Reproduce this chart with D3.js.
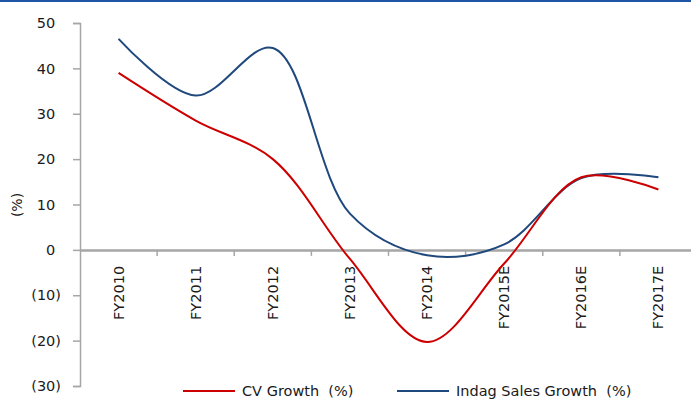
<!DOCTYPE html>
<html>
<head>
<meta charset="utf-8">
<script src="https://cdn.jsdelivr.net/npm/d3@7"></script>
<style>
  body { margin: 0; background: #fff; }
  svg { display: block; font-family: "DejaVu Sans", sans-serif; }
</style>
</head>
<body>
<svg id="chart" width="691" height="405"></svg>
<script>
// data
const years = ["FY2010", "FY2011", "FY2012", "FY2013", "FY2014", "FY2015E", "FY2016E", "FY2017E"];
const cvGrowth = [39, 28.5, 20, -2, -20.3, -3, 16, 13.3];
const indagGrowth = [46.5, 34, 44.5, 8, -1.2, 1.2, 15.8, 16];
const yTicks = [50, 40, 30, 20, 10, 0, -10, -20, -30];

const svg = d3.select("#chart");
const width = 691, height = 405;

// top border
svg.append("rect")
    .attr("x", 0).attr("y", 0)
    .attr("width", width).attr("height", 2)
    .attr("fill", "#1f55a5");

const x = d3.scaleBand()
    .domain(years)
    .range([80, 697]);
const y = d3.scaleLinear()
    .domain([-30, 50])
    .range([386, 23]);

const fmt = d => d < 0 ? "(" + Math.abs(d) + ")" : d;

//Y axis
const yAxisG = svg.append("g")
    .attr("transform", "translate(80,0)")
    .call(d3.axisLeft(y).tickValues(yTicks).tickFormat(fmt).tickSizeOuter(0).tickSize(7).tickPadding(12));
yAxisG.select(".domain").attr("stroke", "#a6a6a6").attr("stroke-width", 1.5);
yAxisG.selectAll(".tick line").attr("stroke", "#a6a6a6").attr("stroke-width", 1.5);
yAxisG.selectAll("text")
    .attr("font-size", 14.5)
    .attr("fill", "#1a1a1a")
    .attr("font-family", "DejaVu Sans")
    // positives keep room for the ")" like the excel number format
    .attr("dx", d => d < 0 ? 0 : -5.7);

svg.append("text")
    .attr("transform", "translate(22,205) rotate(-90)")
    .attr("text-anchor", "middle")
    .attr("font-size", 14)
    .attr("fill", "#1a1a1a")
    .text("(%)");

//X axis at zero
const xAxisG = svg.append("g")
    .attr("transform", `translate(0,${y(0)})`)
    .call(d3.axisBottom(x).tickSize(0).tickFormat(""));
xAxisG.select(".domain").attr("stroke", "#a6a6a6").attr("stroke-width", 2.5);

// tick marks between categories
svg.append("g")
    .selectAll("line")
    .data(years.slice(1))
    .join("line")
    .attr("x1", d => x(d)).attr("x2", d => x(d))
    .attr("y1", y(0)).attr("y2", y(0) + 6)
    .attr("stroke", "#a6a6a6")
    .attr("stroke-width", 1.5);

svg.append("g")
    .selectAll("text")
    .data(years)
    .join("text")
    .attr("transform", d => `translate(${x(d) + x.bandwidth() / 2 + 5},${y(0) + 16}) rotate(-90)`)
    .attr("text-anchor", "end")
    .attr("font-size", 14.5)
    .attr("fill", "#1a1a1a")
    .text(d => d);

//Lines
const line = d3.line()
    .x((d, i) => x(years[i]) + x.bandwidth() / 2)
    .y(d => y(d))
    .curve(d3.curveCatmullRom.alpha(0.5));

svg.append("path")
    .datum(indagGrowth)
    .attr("d", line)
    .attr("fill", "none")
    .attr("stroke", "#1f497d")
    .attr("stroke-width", 2);

svg.append("path")
    .datum(cvGrowth)
    .attr("d", line)
    .attr("fill", "none")
    .attr("stroke", "#cc0000")
    .attr("stroke-width", 2);

//Legend
const legend = [
    {name: "CV Growth  (%)", color: "#cc0000", x: 183},
    {name: "Indag Sales Growth  (%)", color: "#1f497d", x: 397}
];
const lg = svg.append("g").selectAll("g").data(legend).join("g")
    .attr("transform", d => `translate(${d.x},391)`);
lg.append("line")
    .attr("x1", 0).attr("x2", 52)
    .attr("y1", 0).attr("y2", 0)
    .attr("stroke", d => d.color)
    .attr("stroke-width", 2);
lg.append("text")
    .attr("x", 59).attr("y", 5)
    .attr("font-size", 14.5)
    .attr("fill", "#1a1a1a")
    .style("white-space", "pre")
    .text(d => d.name);
</script>
</body>
</html>
